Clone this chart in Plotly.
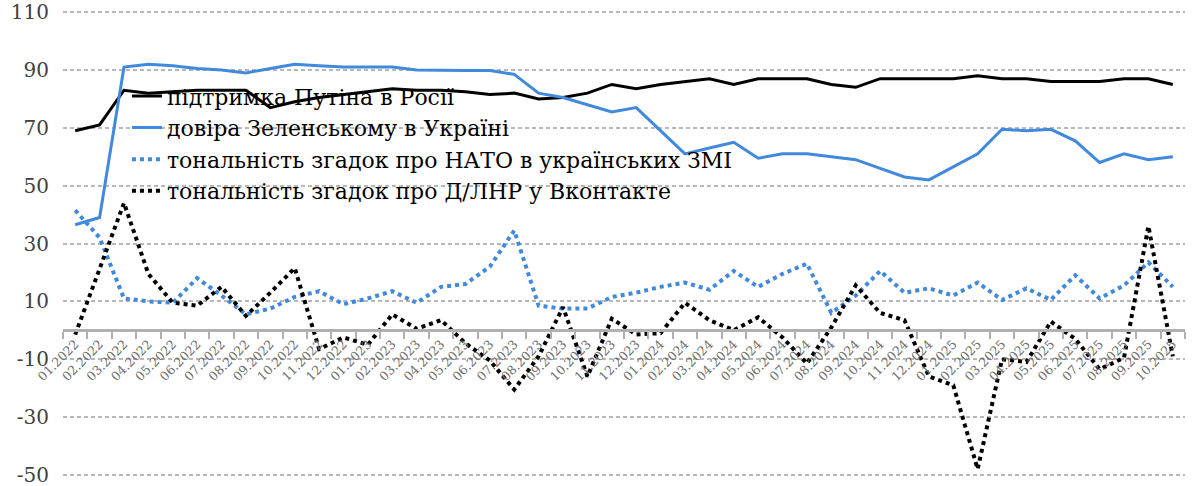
import plotly.graph_objects as go

months = [
    "01.2022", "02.2022", "03.2022", "04.2022", "05.2022", "06.2022",
    "07.2022", "08.2022", "09.2022", "10.2022", "11.2022", "12.2022",
    "01.2023", "02.2023", "03.2023", "04.2023", "05.2023", "06.2023",
    "07.2023", "08.2023", "09.2023", "10.2023", "11.2023", "12.2023",
    "01.2024", "02.2024", "03.2024", "04.2024", "05.2024", "06.2024",
    "07.2024", "08.2024", "09.2024", "10.2024", "11.2024", "12.2024",
    "01.2025", "02.2025", "03.2025", "04.2025", "05.2025", "06.2025",
    "07.2025", "08.2025", "09.2025", "10.2025",
]

putin_support = [
    69, 71, 83, 82, 82.5, 83, 83, 83, 77, 79, 80.5, 81.5,
    82.5, 83.5, 83, 83, 82.5, 81.5, 82, 80, 80.5, 82, 85, 83.5,
    85, 86, 87, 85, 87, 87, 87, 85, 84, 87, 87, 87,
    87, 88, 87, 87, 86, 86, 86, 87, 87, 85,
]

zelensky_trust = [
    36.5, 39, 91, 92, 91.5, 90.5, 90, 89, 90.5, 92, 91.5, 91,
    91, 91, 90, 89.8, 89.8, 89.8, 88.5, 82, 80.5, 78, 75.5, 77,
    69, 61, 63, 65, 59.5, 61, 61, 60, 59, 56, 53, 52,
    56.5, 61, 69.5, 69, 69.5, 65.5, 58, 61, 59, 60,
]

nato_tone = [
    41.5, 32, 11, 10, 9.5, 18, 12, 5.5, 7.5, 11.5, 13.5, 9,
    11, 13.5, 9.5, 15, 16, 22, 34.5, 8.5, 7.5, 7.5, 11.5, 13,
    15, 16.5, 14, 20.5, 15, 19.5, 23, 6, 12, 20.5, 13, 14.5,
    12, 16.5, 10.5, 14.5, 10.5, 19, 11, 15.5, 23.5, 15,
]

dlnr_tone = [
    -1.5, 21, 44, 19.5, 9.5, 8.5, 15, 5, 13, 21.5, -6.5, -2.5,
    -5, 5.5, 0.5, 3.5, -4.5, -10.5, -20.5, -9, 8, -16, 4, -1.5,
    -1, 9.5, 3.5, 0, 4.5, -2.5, -11.5, 1, 15.5, 6, 3.5, -16,
    -19, -48, -10, -11, 3, -3, -13.5, -9.5, 36, -9,
]

y_ticks = [-50, -30, -10, 10, 30, 50, 70, 90, 110]

BLUE = "#4189dc"
SERIF = "DejaVu Serif"

fig = go.Figure()

fig.add_trace(go.Scatter(
    x=months, y=putin_support, mode="lines",
    name="підтримка Путіна в Росії",
    line=dict(color="black", width=3),
))
fig.add_trace(go.Scatter(
    x=months, y=zelensky_trust, mode="lines",
    name="довіра Зеленському в Україні",
    line=dict(color=BLUE, width=3),
))
fig.add_trace(go.Scatter(
    x=months, y=nato_tone, mode="lines",
    name="тональність згадок про НАТО в українських ЗМІ",
    line=dict(color=BLUE, width=4, dash="4px,4px"),
))
fig.add_trace(go.Scatter(
    x=months, y=dlnr_tone, mode="lines",
    name="тональність згадок про Д/ЛНР у Вконтакте",
    line=dict(color="black", width=4, dash="4px,4px"),
))

fig.update_layout(
    width=1200, height=486,
    margin=dict(l=63, r=15, t=11, b=10),
    plot_bgcolor="white", paper_bgcolor="white",
    legend=dict(
        x=0.057, y=0.862, xanchor="left", yanchor="top",
        bgcolor="rgba(0,0,0,0)",
        font=dict(family=SERIF, size=22, color="black"),
        tracegroupgap=0,
    ),
)

# category axis sits on the zero line, like in Excel
y_min, y_max = -50.4, 110.4  # tiny pad so the end gridlines are drawn
fig.update_xaxes(
    type="category", range=[-0.5, len(months) - 0.5],
    anchor="free", position=(0 - y_min) / (y_max - y_min), automargin=False,
    showline=True, linecolor="#b0b0b0", linewidth=2.5,
    ticks="outside", tickson="boundaries", ticklen=7,
    tickcolor="#b0b0b0", tickwidth=1.5,
    tickmode="linear", dtick=1, tickangle=-45,
    tickfont=dict(family=SERIF, size=12.5, color="#6e6e6e"),
    showgrid=False, zeroline=False,
)
fig.update_yaxes(
    range=[y_min, y_max], automargin=False,
    tickmode="array", tickvals=y_ticks, ticktext=[str(v) for v in y_ticks],
    showgrid=True, gridcolor="#b8b8b8", gridwidth=2, griddash="4px,3px",
    zeroline=False, showline=False,
    tickfont=dict(family=SERIF, size=20, color="#404040"),
    ticklabelstandoff=13, ticklabeloverflow="allow",
)

# drop the default 8px body margin so the figure fills the window
fig.write_html(
    "out.html",
    config={"displayModeBar": False},
    post_script="document.body.style.margin='0';",
)
